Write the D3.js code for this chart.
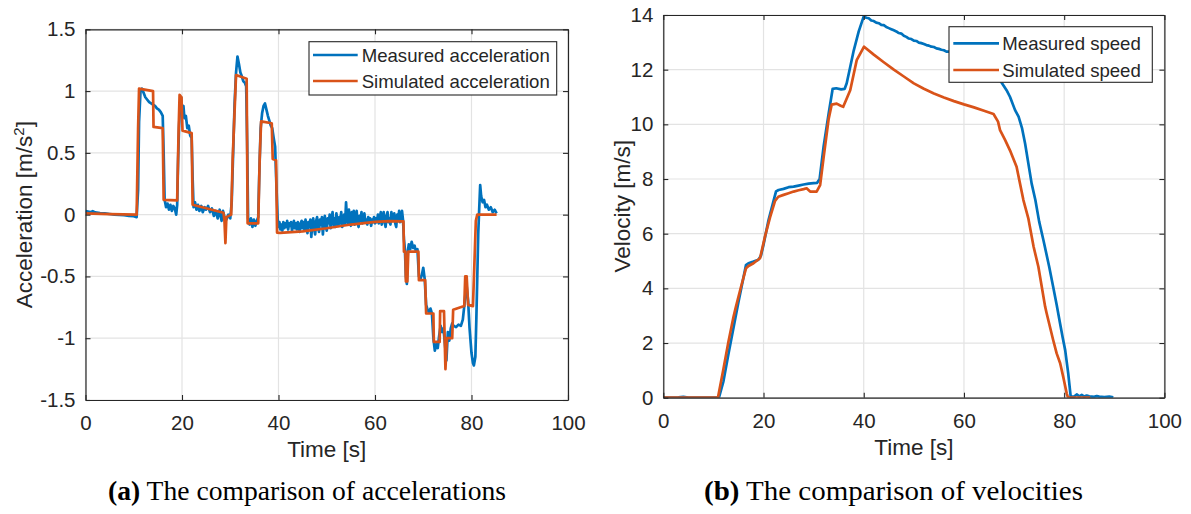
<!DOCTYPE html>
<html>
<head>
<meta charset="utf-8">
<script src="https://cdn.jsdelivr.net/npm/d3@7"></script>
<style>
  html, body { margin: 0; padding: 0; background: #fff; }
  svg { display: block; }
  text { font-family: "Liberation Sans", Arial, Helvetica, sans-serif; fill: #262626; }
  text.caption { font-family: "Liberation Serif", "Times New Roman", serif; fill: #000; }
</style>
</head>
<body>
<svg id="fig" width="1191" height="514"></svg>
<script>
// ---- (a) accelerations: [time s, acceleration m/s^2] ----
const measuredAccel = [
  [0,0.03],[0.5,0.025],[1,0.02],[1.5,0.028],[2,0.018],[3,0.012],[4,0.01],[5,0.005],[6,0.0],[7,-0.003],
  [8,-0.005],[9,-0.01],[10,-0.012],[10.6,-0.02],[10.9,0.2],[11.1,0.75],[11.4,1.0],[11.7,1.02],[12,0.99],
  [12.4,0.95],[12.8,0.93],[13.2,0.91],[13.6,0.9],[14,0.89],[14.4,0.88],[14.8,0.86],[15.2,0.85],[15.6,0.83],
  [16.0,0.8],[16.2,0.5],[16.4,0.12],[16.7,0.06],[17.0,0.09],[17.3,0.04],[17.6,0.08],[17.9,0.03],[18.2,0.07],
  [18.5,0.05],[18.8,0.0],[19.0,0.08],[19.2,0.45],[19.4,0.72],[19.6,0.9],[19.8,0.95],[20.0,0.85],[20.3,0.88],
  [20.5,0.78],[20.8,0.8],[21.1,0.7],[21.4,0.72],[21.7,0.64],[22.0,0.62],[22.2,0.3],[22.4,0.06],[22.7,0.1],
  [23.0,0.04],[23.3,0.08],[23.6,0.03],[24.0,0.07],[24.3,0.02],[24.7,0.06],[25.0,0.04],[25.4,0.07],[25.8,0.02],
  [26.2,0.05],[26.6,-0.01],[27.0,0.03],[27.4,-0.03],[27.8,0.04],[28.2,-0.05],[28.5,0.03],[28.8,-0.02],
  [29.2,-0.04],[29.6,0.0],[30.0,-0.03],[30.3,0.1],[30.6,0.5],[30.9,0.9],[31.2,1.15],[31.5,1.28],[31.8,1.22],
  [32.1,1.15],[32.4,1.12],[32.7,1.08],[33.0,1.07],[33.3,1.04],[33.5,0.6],[33.7,-0.03],[34.0,-0.08],
  [34.3,-0.03],[34.6,-0.1],[34.9,-0.04],[35.2,-0.09],[35.5,-0.05],[35.8,-0.02],[36.0,0.3],[36.3,0.7],
  [36.6,0.82],[36.9,0.88],[37.2,0.9],[37.5,0.85],[37.8,0.8],[38.1,0.76],[38.4,0.72],[38.7,0.7],[39.0,0.62],
  [39.3,0.55],[39.6,0.2],[39.9,-0.1],
  [40.2,-0.06],[40.4,-0.12],[40.6,-0.08],[40.8,-0.13],[41.0,-0.06],[41.2,-0.11],[41.4,-0.07],[41.6,-0.1],
  [41.8,-0.05],[42.0,-0.12],[42.2,-0.07],[42.4,-0.09],[42.6,-0.06],[42.8,-0.13],[43.0,-0.08],[43.2,-0.05],
  [43.4,-0.11],[43.6,-0.07],[43.8,-0.12],[44.0,-0.06],[44.2,-0.09],[44.4,-0.14],[44.6,-0.07],[44.8,-0.05],
  [45.0,-0.11],[45.2,-0.06],[45.4,-0.13],[45.6,-0.04],[45.8,-0.09],[46.0,-0.15],[46.2,-0.06],[46.4,-0.1],
  [46.6,-0.04],[46.8,-0.18],[47.0,-0.07],[47.2,-0.03],[47.4,-0.12],[47.6,-0.16],[47.8,-0.05],[48.0,-0.02],
  [48.2,-0.1],[48.4,-0.14],[48.6,-0.04],[48.8,-0.08],[49.0,-0.02],[49.2,-0.16],[49.4,-0.06],[49.6,-0.01],
  [49.8,-0.09],[50.0,-0.13],[50.2,-0.03],[50.4,-0.07],[50.6,0.0],[50.8,-0.11],[51.0,-0.05],[51.2,0.02],
  [51.4,-0.08],[51.6,-0.03],[51.8,-0.1],[52.0,0.01],[52.2,-0.06],[52.4,-0.09],[52.6,-0.02],[52.8,-0.07],
  [53.0,0.02],[53.2,-0.1],[53.4,-0.04],[53.6,0.0],[53.8,-0.08],[54.0,0.1],[54.2,-0.03],[54.4,-0.07],
  [54.6,0.04],[54.8,-0.05],[55.0,-0.09],[55.2,0.02],[55.4,-0.06],[55.6,0.03],[55.8,-0.08],[56.0,-0.02],
  [56.2,0.03],[56.4,-0.07],[56.6,-0.1],[56.8,-0.01],[57.0,-0.05],[57.2,0.02],[57.4,-0.07],[57.6,-0.03],
  [57.8,0.01],[58.0,-0.06],[58.2,-0.04],[58.4,-0.08],[58.6,-0.02],[58.8,-0.06],[59.0,-0.03],[59.2,-0.09],
  [59.4,-0.04],[59.6,-0.06],[59.8,-0.02],[60.0,-0.07],[60.2,-0.03],[60.4,-0.06],[60.6,0.0],[60.8,-0.07],
  [61.0,-0.02],[61.2,0.02],[61.4,-0.08],[61.6,-0.04],[61.8,0.02],[62.0,-0.06],[62.2,-0.1],[62.4,-0.01],
  [62.6,0.02],[62.8,-0.06],[63.0,-0.03],[63.2,-0.08],[63.4,0.02],[63.6,-0.05],[63.8,-0.02],[64.0,0.01],
  [64.2,-0.07],[64.4,-0.1],[64.6,0.0],[64.8,-0.05],[65.0,0.03],[65.2,-0.06],[65.4,-0.02],[65.6,0.03],
  [65.8,-0.04],
  [66.0,-0.2],[66.2,-0.28],[66.4,-0.5],
  [66.6,-0.56],[66.8,-0.3],[67.0,-0.24],[67.3,-0.28],[67.6,-0.22],[67.9,-0.27],[68.2,-0.25],[68.5,-0.3],
  [68.8,-0.28],[69.1,-0.5],[69.4,-0.52],[69.7,-0.49],[70.0,-0.43],[70.3,-0.52],[70.6,-0.73],[70.9,-0.77],
  [71.2,-0.79],[71.5,-0.76],[71.8,-0.8],[72.1,-1.0],[72.4,-1.1],[72.7,-1.05],[73.0,-1.08],[73.3,-0.98],
  [73.6,-0.9],[73.9,-0.95],[74.2,-0.92],[74.5,-1.05],[74.8,-1.18],[75.1,-0.95],[75.4,-1.02],[75.7,-0.92],
  [76.0,-0.88],[76.3,-0.9],[76.8,-0.91],[77.3,-0.89],[77.8,-0.9],[78.2,-0.85],[78.5,-0.74],[78.8,-0.62],
  [79.0,-0.58],[79.3,-0.7],[79.6,-0.92],[80.0,-1.12],[80.3,-1.2],[80.5,-1.22],[80.8,-1.15],[81.0,-0.85],
  [81.2,-0.5],[81.4,-0.15],[81.6,0.05],[81.8,0.24],[82.0,0.15],[82.3,0.1],[82.6,0.12],[82.9,0.06],
  [83.2,0.08],[83.6,0.04],[84.0,0.06],[84.4,0.02],[84.8,0.04],[85.2,0.01]
];

const simulatedAccel = [
  [0,0.01],[5,0.005],[10.6,0.0],[10.9,0.7],[11.1,1.02],[14.0,1.0],[14.1,0.71],[16.0,0.70],[16.2,0.12],
  [19.0,0.115],[19.3,0.69],[19.5,0.97],[19.9,0.95],[20.1,0.68],[22.0,0.66],[22.2,0.08],[28.6,0.015],
  [28.8,-0.05],[29.0,-0.23],[29.2,-0.02],[30.2,0.0],[30.5,0.45],[31.2,1.13],[33.4,1.10],[33.6,-0.07],
  [35.8,-0.07],[36.1,0.45],[36.4,0.755],[38.6,0.74],[38.8,0.45],[39.5,0.44],[39.7,-0.145],[40.3,-0.148],
  [45,-0.135],[50,-0.11],[55,-0.08],[60,-0.058],[63,-0.052],[65.9,-0.055],[66.0,-0.3],[66.3,-0.3],
  [66.4,-0.54],[66.7,-0.54],[66.9,-0.3],[69.0,-0.3],[69.1,-0.53],[70.4,-0.53],[70.6,-0.8],[72.1,-0.8],
  [72.2,-1.03],[73.4,-1.03],[73.5,-0.78],[74.3,-0.78],[74.6,-1.25],[74.9,-1.0],[76.0,-1.0],[76.2,-0.77],
  [78.5,-0.74],[78.7,-0.5],[79.0,-0.5],[79.3,-0.73],[80.3,-0.74],[80.6,-0.4],[80.9,-0.05],[81.2,0.0],
  [85.2,0.0]
];

// ---- (b) velocities: [time s, speed m/s] ----
const measuredSpeed = [
  [0,0],[3,0.01],[4,0.03],[5,0.0],[11.1,0],[12,0.6],[13,1.6],[14,2.55],[15,3.5],[16,4.4],[16.5,4.85],
  [17,4.92],[18,4.98],[19,5.05],[19.5,5.2],[20,5.6],[21,6.5],[22,7.2],[22.5,7.55],[23,7.6],[24,7.64],
  [25,7.7],[26,7.72],[27,7.76],[28,7.8],[29,7.83],[30,7.85],[30.7,7.86],[31.2,8.0],[32,9.2],[33,10.4],
  [33.8,11.3],[34.5,11.32],[35.5,11.28],[36.2,11.3],[36.6,11.5],[37.3,12.1],[38,12.7],[39,13.4],[40,13.95],
  [40.5,13.9],[41,13.88],[41.5,13.8],[42,13.78],[42.5,13.72],[43,13.7],[43.5,13.64],[44,13.63],[44.5,13.56],
  [45,13.52],[45.5,13.48],[46,13.44],[46.5,13.4],[47,13.34],[47.5,13.32],[48,13.24],[48.5,13.2],[49,13.14],
  [49.5,13.12],[50,13.06],[50.5,13.05],[51,12.99],[51.5,12.97],[52,12.94],[52.5,12.9],[53,12.88],
  [53.5,12.84],[54,12.83],[54.5,12.78],[55,12.76],[55.5,12.73],[56,12.71],[56.5,12.66],[57,12.66],
  [60,12.5],[63,12.3],[65,12.05],[66.5,11.8],[67.5,11.53],[68.5,11.25],[69.2,11.0],[70.2,10.52],
  [70.9,10.28],[71.6,9.85],[72.2,9.3],[73.5,7.84],[74.25,7.23],[75,6.45],[75.85,5.77],[77,4.8],[77.8,4.06],
  [78.5,3.4],[79.2,2.7],[79.7,2.2],[80.2,1.74],[80.8,0.9],[81.3,0.04],[82,0.04],[82.5,0.12],[83,0.05],
  [83.5,0.1],[84,0.04],[84.5,0.08],[85,0.05],[86,0.03],[86.5,0.06],[87,0.04],[88,0.02],[89,0.04],[89.8,0.01]
];

const simulatedSpeed = [
  [0,0],[10.9,0],[12,1.05],[13,2.05],[14,2.95],[14.5,3.33],[15.5,4.05],[16.5,4.73],[17,4.82],[18,4.92],
  [19.3,5.1],[20.3,5.9],[21.3,6.6],[22.3,7.2],[22.95,7.35],[24,7.42],[25,7.48],[26,7.54],[27,7.59],
  [28,7.63],[28.6,7.66],[29.3,7.54],[30.6,7.54],[31.3,7.78],[32,8.8],[33,10.2],[33.6,10.72],[34.6,10.76],
  [35.4,10.68],[35.9,10.64],[36.5,10.9],[37.3,11.25],[38.6,12.35],[40.06,12.84],[42,12.55],[44,12.27],
  [46,12.0],[48,11.75],[50,11.5],[52,11.3],[54,11.13],[56,10.98],[58,10.85],[60,10.73],[62,10.62],
  [64,10.5],[65.9,10.38],[66.8,10.1],[67.2,9.79],[68.2,9.43],[69.3,9.0],[70.5,8.45],[71.86,7.23],
  [72.86,6.55],[73.9,5.52],[74.85,4.79],[76.2,3.33],[76.5,3.09],[77.8,2.11],[78.5,1.62],[79.2,1.26],
  [79.8,0.77],[80.5,0.16],[80.7,0.04],[81,0],[85.2,0]
];

// ---- axis ticks and labels ----
const timeTicks = [0, 20, 40, 60, 80, 100];
const accelTicks = [-1.5, -1, -0.5, 0, 0.5, 1, 1.5];
const accelTickLabels = ["-1.5", "-1", "-0.5", "0", "0.5", "1", "1.5"];
const speedTicks = [0, 2, 4, 6, 8, 10, 12, 14];
const accelLegend = ["Measured acceleration", "Simulated acceleration"];
const speedLegend = ["Measured speed", "Simulated speed"];
const captions = [["(a)", " The comparison of accelerations"], ["(b)", " The comparison of velocities"]];

const BLUE = "#0072BD", ORANGE = "#D95319", INK = "#262626", GRID = "#e3e3e3";
const svg = d3.select("#fig");

function panel(opt) {
  const x = d3.scaleLinear().domain([0, 100]).range([opt.left, opt.right]);
  const y = d3.scaleLinear().domain(opt.yDomain).range([opt.bottom, opt.top]);
  const g = svg.append("g");

  // grid
  g.append("g").selectAll("line").data(timeTicks).join("line")
    .attr("x1", d => x(d)).attr("x2", d => x(d)).attr("y1", opt.top).attr("y2", opt.bottom)
    .attr("stroke", GRID).attr("stroke-width", 1.2);
  g.append("g").selectAll("line").data(opt.yTicks).join("line")
    .attr("y1", d => y(d)).attr("y2", d => y(d)).attr("x1", opt.left).attr("x2", opt.right)
    .attr("stroke", GRID).attr("stroke-width", 1.2);

  // data lines
  const line = d3.line().x(d => x(d[0])).y(d => y(d[1]));
  const clipId = "clip" + opt.id;
  svg.append("clipPath").attr("id", clipId).append("rect")
    .attr("x", opt.left).attr("y", opt.top).attr("width", opt.right - opt.left).attr("height", opt.bottom - opt.top);
  const lines = g.append("g").attr("clip-path", `url(#${clipId})`);
  lines.append("path").attr("d", line(opt.measured)).attr("fill", "none")
    .attr("stroke", BLUE).attr("stroke-width", 2.7).attr("stroke-linejoin", "round");
  lines.append("path").attr("d", line(opt.simulated)).attr("fill", "none")
    .attr("stroke", ORANGE).attr("stroke-width", 2.7).attr("stroke-linejoin", "round");

  // axes: inward ticks on all four sides
  const tick = 5;
  const styleAxis = sel => {
    sel.select(".domain").attr("stroke", INK).attr("stroke-width", 1.2);
    sel.selectAll(".tick line").attr("stroke", INK).attr("stroke-width", 1.1);
    sel.selectAll(".tick text").attr("fill", INK).style("font-size", "20.5px")
      .style("font-family", '"Liberation Sans", Arial, sans-serif');
  };
  g.append("g").attr("transform", `translate(0,${opt.bottom})`)
    .call(d3.axisBottom(x).tickValues(timeTicks).tickSizeInner(-tick).tickSizeOuter(0).tickPadding(12))
    .call(styleAxis).call(s => s.selectAll(".tick text").attr("dy", "0.9em"));
  g.append("g").attr("transform", `translate(0,${opt.top})`)
    .call(d3.axisTop(x).tickValues(timeTicks).tickSizeInner(-tick).tickSizeOuter(0).tickFormat(""))
    .call(styleAxis);
  g.append("g").attr("transform", `translate(${opt.left},0)`)
    .call(d3.axisLeft(y).tickValues(opt.yTicks).tickSizeInner(-tick).tickSizeOuter(0).tickPadding(10)
      .tickFormat((d, i) => opt.yLabels[i]))
    .call(styleAxis);
  g.append("g").attr("transform", `translate(${opt.right},0)`)
    .call(d3.axisRight(y).tickValues(opt.yTicks).tickSizeInner(-tick).tickSizeOuter(0).tickFormat(""))
    .call(styleAxis);

  // axis titles
  g.append("text").attr("x", (opt.left + opt.right) / 2).attr("y", opt.xTitleY)
    .attr("text-anchor", "middle").style("font-size", "22.5px").text("Time [s]");
  const yt = g.append("text")
    .attr("transform", `translate(${opt.yTitleX},${(opt.top + opt.bottom) / 2}) rotate(-90)`)
    .attr("text-anchor", "middle").style("font-size", "22.5px");
  opt.yTitle(yt);

  // legend
  const L = opt.legend;
  const lg = g.append("g");
  lg.append("rect").attr("x", L.x0).attr("y", L.y0).attr("width", L.x1 - L.x0).attr("height", L.y1 - L.y0)
    .attr("fill", "#fff").attr("stroke", INK).attr("stroke-width", 1.1);
  [BLUE, ORANGE].forEach((c, i) => {
    const yy = L.rows[i];
    lg.append("line").attr("x1", L.s0).attr("x2", L.s1).attr("y1", yy).attr("y2", yy)
      .attr("stroke", c).attr("stroke-width", 2.7);
    lg.append("text").attr("x", L.tx).attr("y", yy + 6.7).style("font-size", "18.6px").text(opt.legendText[i]);
  });
}

panel({
  id: "a", left: 85.5, right: 568, top: 29.3, bottom: 400,
  yDomain: [-1.5, 1.5], yTicks: accelTicks, yLabels: accelTickLabels,
  measured: measuredAccel, simulated: simulatedAccel,
  xTitleY: 457, yTitleX: 32,
  yTitle: t => {
    t.append("tspan").text("Acceleration [m/s");
    t.append("tspan").attr("dy", -8).style("font-size", "15px").text("2");
    t.append("tspan").attr("dy", 8).text("]");
  },
  legend: { x0: 309, x1: 556.7, y0: 41.7, y1: 95, s0: 313, s1: 357.7, tx: 361.7, rows: [55, 81] },
  legendText: accelLegend
});

panel({
  id: "b", left: 663.3, right: 1164.4, top: 15, bottom: 397.7,
  yDomain: [0, 14], yTicks: speedTicks, yLabels: speedTicks.map(String),
  measured: measuredSpeed, simulated: simulatedSpeed,
  xTitleY: 455, yTitleX: 630,
  yTitle: t => t.text("Velocity [m/s]"),
  legend: { x0: 949, x1: 1152.3, y0: 26.7, y1: 82.3, s0: 953.3, s1: 999, tx: 1002.3, rows: [43.3, 70] },
  legendText: speedLegend
});

// sub-figure captions
[[307, 500, 398], [893.5, 500, 379]].forEach(([cx, cy, w], i) => {
  const t = svg.append("text").attr("class", "caption").attr("x", cx).attr("y", cy)
    .attr("text-anchor", "middle").style("font-size", "26.5px")
    .attr("textLength", w).attr("lengthAdjust", "spacingAndGlyphs");
  t.append("tspan").style("font-weight", "bold").text(captions[i][0]);
  t.append("tspan").text(captions[i][1]);
});
</script>
</body>
</html>
